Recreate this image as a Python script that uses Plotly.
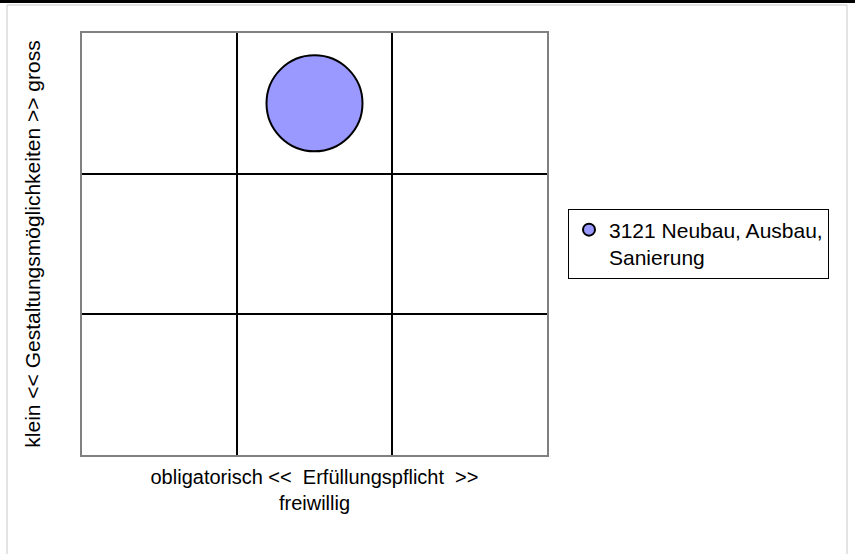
import plotly.graph_objects as go

# Data
series_name = "3121 Neubau, Ausbau,<br>Sanierung"
x_vals = [1.5]
y_vals = [2.5]
bubble_size = [96]
x_title = "obligatorisch <<  Erfüllungspflicht  >><br>freiwillig"
y_title = "klein << Gestaltungsmöglichkeiten >> gross"

fig = go.Figure()
fig.add_trace(go.Scatter(
    x=x_vals, y=y_vals, mode="markers", name=series_name,
    marker=dict(size=bubble_size, sizemode="diameter", color="#9999FF", opacity=1,
                line=dict(color="black", width=2)),
    showlegend=True,
))

FONT = "Liberation Sans, Arial, sans-serif"
axis_common = dict(
    range=[0, 3], tickvals=[1, 2], showticklabels=False, ticks="",
    showgrid=True, gridcolor="black", gridwidth=2,
    showline=True, linecolor="#808080", linewidth=2, mirror=True,
    zeroline=False, fixedrange=True,
)

fig.update_layout(
    width=855, height=554,
    margin=dict(l=82, r=308, t=33, b=99, autoexpand=False),
    paper_bgcolor="white", plot_bgcolor="white",
    font=dict(family=FONT, size=21, color="black"),
    xaxis=dict(**axis_common, title=dict(text=x_title, standoff=14, font=dict(size=20)), automargin=True),
    yaxis=dict(**axis_common, title=dict(text=y_title, standoff=34, font=dict(size=21)), automargin=True),
    legend=dict(x=(568 - 82) / 465, y=(455 - 243.5) / 422, xanchor="left", yanchor="middle",
                bordercolor="black", borderwidth=1, bgcolor="white",
                itemsizing="constant", valign="top", font=dict(size=21)),
    shapes=[
        dict(type="rect", xref="paper", yref="paper", x0=-0.16129, x1=1.64516, y0=-0.3, y1=1.0664,
             line=dict(color="#c8c8c8", width=1), fillcolor="rgba(0,0,0,0)", layer="below"),
        dict(type="rect", xref="paper", yref="paper", x0=-0.2, x1=1.7, y0=1.0711, y1=1.0782,
             line=dict(width=0), fillcolor="black", layer="above"),
    ],
)

fig.write_html("out.html", config={"displayModeBar": False},
               post_script="document.body.style.margin='0';")
